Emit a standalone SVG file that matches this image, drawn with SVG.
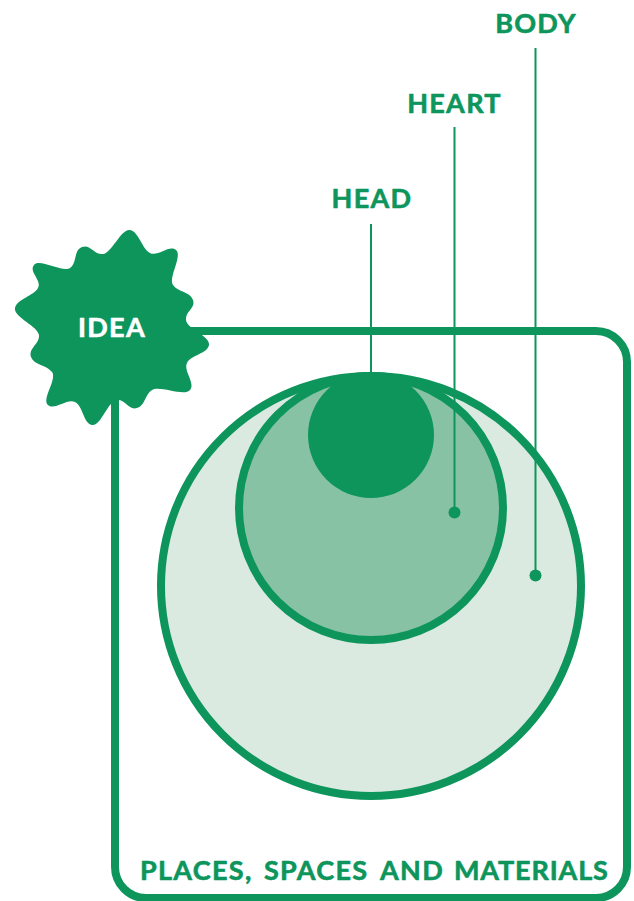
<svg xmlns="http://www.w3.org/2000/svg" width="634" height="901" viewBox="0 0 634 901">
<style>
.g{fill:#0d955c}
.o{stroke:#0d955c;stroke-width:8}
.l{stroke:#0d955c;stroke-width:2;fill:none}
text{font-family:"Lato","Liberation Sans",sans-serif;font-weight:700;fill:#0d955c;stroke:#0d955c;stroke-width:.6px;stroke-linejoin:round;font-size:27px;letter-spacing:1.3px}
</style>
<rect width="634" height="901" fill="#fff"/>
<g id="frame"><path d="M115 395V867a31 31 0 0 0 31 31H596a31 31 0 0 0 31-31V362a31 31 0 0 0-31-31H185" fill="none" class="o"/></g>
<g id="body"><circle cx="371" cy="586" r="210" fill="#dbeae1" class="o"/></g>
<g id="heart"><circle cx="371" cy="508" r="132" fill="#88c2a5" class="o"/></g>
<g id="head"><circle cx="371" cy="435" r="63" class="g"/></g>
<g id="connectors">
<path class="l" d="M371 224V375"/>
<path class="l" d="M454.500 127V512"/>
<path class="l" d="M535.500 48V575"/>
<circle class="g" cx="454.500" cy="512.500" r="6"/>
<circle class="g" cx="535.500" cy="575.500" r="6"/>
</g>
<g id="idea">
<path class="g" d="M130 230C138.800 231.600 142 248.900 150 253C158 257.100 169.100 244.200 176 250C182.900 255.800 167.900 277.600 173 285C178.100 292.400 190.100 291.400 193 300C195.900 308.600 185.200 311 186 320C186.800 329 210.600 336.200 209 345C207.400 353.800 190.900 354.900 187 363C183.100 371.100 195.700 383 190 390C184.300 397 159.600 385.100 152 390C144.400 394.900 145.600 405.300 137 408C128.400 410.700 126 399.400 117 400C108 400.600 100.800 426.800 92 425C83.200 423.200 83.100 406 75 402C66.900 398 54.900 410.700 48 405C41.100 399.300 57.400 379.200 52 372C46.600 364.800 34.200 365.500 31 357C27.800 348.500 40 343.900 39 335C38 326.100 13.300 316.800 15 308C16.700 299.200 33.800 295.900 38 288C42.200 280.100 28.400 272 34 265C39.600 258 62.700 273.200 70 268C77.300 262.800 73.500 250.200 82 247C90.500 243.800 94.100 255.100 103 254C111.900 252.900 121.200 228.400 130 230Z"/>
<text x="112" y="337" text-anchor="middle" style="fill:#fff;stroke:#fff">IDEA</text>
</g>
<g id="labels">
<text x="372" y="208" text-anchor="middle">HEAD</text>
<text x="454.500" y="113" text-anchor="middle">HEART</text>
<text x="536" y="33" text-anchor="middle">BODY</text>
<text y="880"><tspan x="140">PLACES, </tspan><tspan x="264">SPACES </tspan><tspan x="380">AND </tspan><tspan x="454" style="letter-spacing:.85px">MATERIALS</tspan></text>
</g>
</svg>
